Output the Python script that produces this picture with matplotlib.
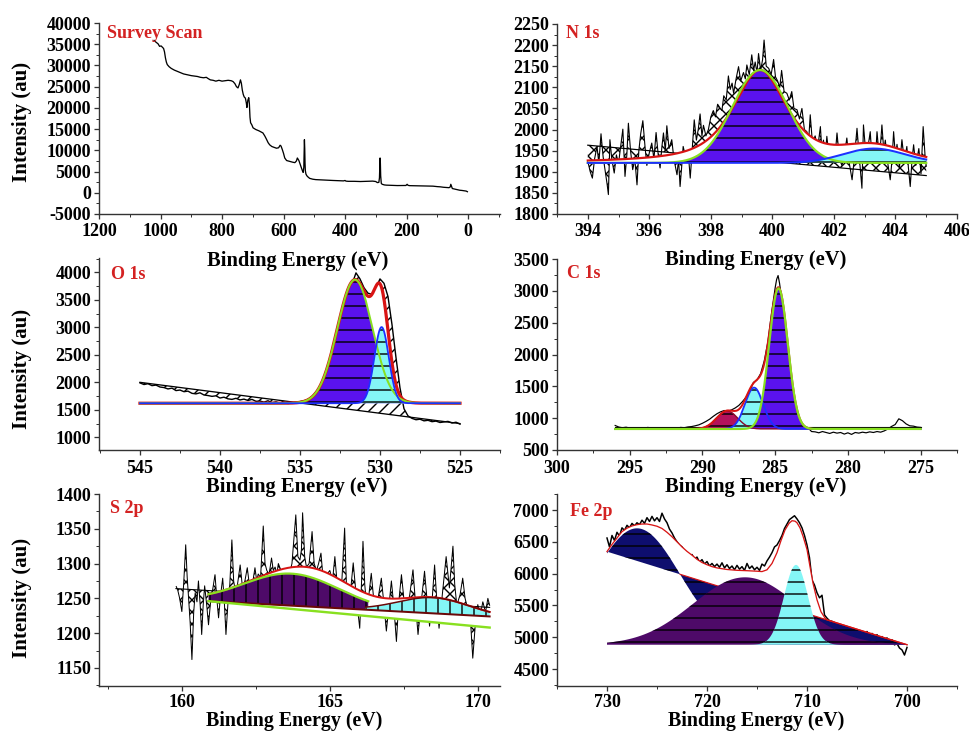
import numpy as np
import matplotlib
matplotlib.use('Agg')
import matplotlib.pyplot as plt
from matplotlib.ticker import MultipleLocator

# ---------------- DATA ----------------
# Survey scan (binding energy eV, intensity au)
surv_E = [1021, 1015, 1008, 1003, 998, 994, 990, 987, 984, 981, 978, 972, 965, 955, 945, 935, 925, 912, 900, 890,
          880, 870, 860, 851, 845, 838, 829, 820, 810, 800, 790, 780, 770, 764, 758, 753, 748, 744, 740, 737,
          734, 731, 728, 724, 721, 719, 716, 713, 711, 709, 707, 703, 699, 690, 680, 672, 667, 661, 656, 650,
          645, 638, 630, 623, 616, 611, 608, 604, 600, 596, 590, 580, 570, 563, 558, 555, 550, 545, 541, 538,
          536, 534, 533, 532, 531, 530, 529, 527, 524, 520, 515, 505, 495, 482, 470, 455, 439, 420, 405, 400,
          397, 390, 370, 350, 330, 310, 300, 295, 290, 288, 287, 286, 285, 284, 282, 279, 272, 266, 250, 230,
          210, 202, 198, 195, 190, 170, 150, 130, 114, 100, 90, 80, 70, 62, 58, 56, 54, 51, 45, 35,
          27, 20, 12, 6, 2]
surv_I = [35900, 35500, 35100, 34500, 34600, 34300, 34000, 33200, 31800, 30800, 30200, 29700, 29300, 28900, 28600,
          28300, 28000, 27800, 27600, 27500, 27400, 27200, 27100, 27200, 26900, 26600, 26500, 26300, 26500, 26300,
          26400, 26500, 26400, 26200, 25700, 25000, 24700, 25500, 26600, 25800, 24200, 23200, 22600, 22300, 21200,
          20100, 21800, 22400, 21000, 17800, 16500, 16000, 15300, 14900, 14600, 14300, 14100, 13400, 12700, 11800,
          11300, 10900, 10700, 10500, 10600, 11200, 11000, 10200, 9300, 8200, 7600, 7400, 7200, 7100, 7500,
          8200, 7600, 6500, 5700, 5100, 4800, 6000, 9000, 12500, 10500, 7000, 5200, 4400, 4000, 3700,
          3400, 3200, 3100, 3050, 3000, 2950, 2900, 2850, 2800, 2900, 2750, 2700, 2700, 2650, 2700,
          2750, 2650, 2400, 2450, 3500, 6000, 8200, 7000, 4000, 2200, 2000, 1850, 1800, 1750, 1700,
          1700, 1720, 2000, 1750, 1680, 1650, 1620, 1580, 1560, 1450, 1400, 1300, 1250, 1200, 1350,
          2000, 1600, 1000, 900, 750, 600, 550, 450, 400, 250]

# N 1s raw spectrum
n_E = [394.00, 394.08, 394.15, 394.22, 394.30, 394.36, 394.43, 394.50, 394.57, 394.63, 394.67, 394.72, 394.78,
       394.86, 394.93, 395.00, 395.07, 395.14, 395.21, 395.27, 395.32, 395.39, 395.46, 395.53, 395.60, 395.66,
       395.72, 395.79, 395.86, 395.92, 396.00, 396.08, 396.15, 396.22, 396.29, 396.35, 396.41, 396.46, 396.52,
       396.57, 396.64, 396.73, 396.80, 396.90, 396.95, 397.00, 397.05, 397.10, 397.18, 397.26, 397.33, 397.40,
       397.46, 397.53, 397.59, 397.65, 397.71, 397.76, 397.84, 397.92, 398.00, 398.08, 398.15, 398.22, 398.30,
       398.36, 398.42, 398.50, 398.57, 398.63, 398.69, 398.74, 398.82, 398.90, 398.97, 399.06, 399.12, 399.17,
       399.25, 399.33, 399.39, 399.44, 399.50, 399.55, 399.62, 399.68, 399.73, 399.80, 399.88, 399.96, 400.04,
       400.10, 400.17, 400.24, 400.30, 400.38, 400.47, 400.55, 400.63, 400.70, 400.80, 400.88, 400.96, 401.04,
       401.12, 401.18, 401.23, 401.30, 401.39, 401.47, 401.56, 401.61, 401.66, 401.72, 401.77, 401.85, 401.94,
       402.02, 402.10, 402.18, 402.26, 402.34, 402.42, 402.50, 402.59, 402.66, 402.75, 402.83, 402.91, 402.96,
       403.04, 403.11, 403.18, 403.24, 403.29, 403.34, 403.40, 403.48, 403.56, 403.62, 403.67, 403.75, 403.83,
       403.89, 403.94, 404.00, 404.05, 404.13, 404.21, 404.29, 404.37, 404.42, 404.48, 404.54, 404.59, 404.66,
       404.76, 404.83, 404.90, 404.96, 405.00]
n_I = [1925, 1900, 1885, 1930, 1960, 1920, 1990, 1935, 1900, 1870, 1846, 1976, 1930,
       1897, 1940, 1920, 1960, 2001, 1889, 1940, 2015, 1950, 1905, 1930, 1869, 1950,
       1990, 2021, 1960, 1915, 1945, 1968, 1930, 1993, 1940, 1909, 1960, 1992, 1950,
       2009, 1955, 1976, 1930, 1893, 1930, 1865, 1910, 1960, 1935, 1950, 1885, 1960,
       2023, 1975, 2000, 2037, 1985, 2010, 1985, 2000, 2030, 2045, 2030, 2060, 2051,
       2045, 2080, 2070, 2127, 2095, 2110, 2086, 2120, 2149, 2115, 2135, 2120, 2153,
       2130, 2177, 2140, 2160, 2135, 2180, 2140, 2165, 2212, 2150, 2145, 2130, 2166,
       2125, 2115, 2100, 2140, 2090, 2086, 2070, 2090, 2050, 2047, 2025, 2050, 2000,
       1995, 1975, 2035, 1970, 1985, 1955, 2007, 1950, 1975, 1940, 1984, 1930, 1952,
       1920, 1992, 1930, 1915, 1940, 1980, 1920, 1881, 1930, 2003, 1930, 1861, 2011,
       1940, 1960, 1995, 1930, 1955, 1920, 1995, 1930, 2011, 1950, 1975, 1920, 1881,
       1930, 1995, 1935, 1965, 1910, 1976, 1925, 1960, 1910, 1865, 1930, 1964, 1915,
       1955, 1895, 2007, 1940, 1913]
n_line_E = [394.0, 405.0]
n_line_I = [1963, 1891]
n_base = 1921
n_centers = [399.6, 403.3]
n_heights = [220, 34]
n_sigmas = [0.9, 1.0]
n_env_lorentz = 0.75

# O 1s raw spectrum
o_E = [545.00, 544.75, 544.50, 544.25, 544.00, 543.75, 543.50, 543.25, 543.00, 542.75, 542.50, 542.25, 542.00,
       541.75, 541.50, 541.25, 541.00, 540.75, 540.50, 540.25, 540.00, 539.75, 539.50, 539.25, 539.00, 538.75,
       538.50, 538.25, 538.00, 537.75, 537.50, 537.25, 537.00, 536.75, 536.50, 536.25, 536.00, 535.75, 535.50,
       535.25, 535.00, 534.75, 534.50, 534.25, 534.00, 533.75, 533.50, 533.25, 533.00, 532.75, 532.50, 532.25,
       532.00, 531.75, 531.50, 531.25, 531.00, 530.75, 530.50, 530.25, 530.00, 529.75, 529.50, 529.25, 529.00,
       528.75, 528.50, 528.25, 528.00, 527.75, 527.50, 527.25, 527.00, 526.75, 526.50, 526.25, 526.00, 525.75,
       525.50, 525.25, 525.00]
o_I = [1990, 1960, 1975, 1940, 1950, 1915, 1905, 1880, 1895, 1850, 1860, 1830, 1840,
       1800, 1790, 1810, 1770, 1760, 1745, 1755, 1715, 1730, 1700, 1690, 1710, 1680,
       1695, 1670, 1690, 1655, 1660, 1640, 1665, 1630, 1645, 1620, 1640, 1615, 1625,
       1640, 1650, 1665, 1690, 1740, 1820, 1880, 2060, 2200, 2380, 2640, 2900, 3200,
       3500, 3780, 3990, 3880, 3720, 3620, 3600, 3720, 3880, 3800, 3560, 3050, 2450,
       1900, 1520, 1390, 1345, 1320, 1330, 1300, 1310, 1285, 1295, 1270, 1280, 1290,
       1260, 1275, 1240]
o_line_E = [545.0, 525.0]
o_line_I = [2000, 1250]
o_base = 1620
o_centers = [531.56, 529.9]
o_heights = [2246, 1384]
o_sigmas = [1.1, 0.45]

# C 1s raw spectrum
c_E = [296.0, 295.75, 295.5, 295.25, 295.0, 294.75, 294.5, 294.25, 294.0, 293.75, 293.5, 293.25, 293.0, 292.75,
       292.5, 292.25, 292.0, 291.75, 291.5, 291.25, 291.0, 290.75, 290.5, 290.25, 290.0, 289.75, 289.5, 289.25,
       289.0, 288.75, 288.5, 288.25, 288.0, 287.75, 287.5, 287.25, 287.0, 286.75, 286.5, 286.25, 286.0, 285.75,
       285.5, 285.25, 285.0, 284.9, 284.8, 284.7, 284.6, 284.5, 284.25, 284.0, 283.75, 283.5, 283.25, 283.0,
       282.75, 282.5, 282.25, 282.0, 281.75, 281.5, 281.25, 281.0, 280.75, 280.5, 280.25, 280.0, 279.75, 279.5,
       279.25, 279.0, 278.75, 278.5, 278.25, 278.0, 277.75, 277.5, 277.25, 277.0, 276.75, 276.5, 276.25, 276.0,
       275.75, 275.5, 275.25, 275.0]
c_I = [885, 860, 850, 858, 845, 852, 838, 848, 842, 855, 840, 850, 846, 838,
       852, 845, 850, 842, 855, 850, 862, 868, 880, 895, 920, 950, 985, 1030,
       1070, 1100, 1120, 1110, 1130, 1160, 1200, 1260, 1330, 1420, 1560, 1600, 1700, 1900,
       2200, 2650, 3050, 3180, 3240, 3120, 2950, 2700, 2150, 1650, 1250, 1020, 920, 875,
       850, 790, 785, 770, 790, 775, 760, 780, 765, 775, 750, 770, 745, 775,
       765, 780, 770, 785, 775, 790, 780, 800, 830, 870, 900, 990, 960, 910,
       880, 875, 860, 855]
c_flat = 865
c_base = 830
c_centers = [288.3, 286.45, 284.77]
c_heights = [283, 650, 2209]
c_sigmas = [0.72, 0.62, 0.64]

# S 2p raw spectrum
s_E = [159.81, 159.86, 159.92, 160.00, 160.06, 160.13, 160.18, 160.22, 160.28, 160.34, 160.40, 160.45, 160.51,
       160.56, 160.62, 160.67, 160.72, 160.77, 160.84, 160.90, 160.97, 161.05, 161.12, 161.18, 161.24, 161.31,
       161.38, 161.44, 161.49, 161.56, 161.62, 161.69, 161.75, 161.80, 161.88, 161.97, 162.05, 162.13, 162.21,
       162.28, 162.36, 162.42, 162.47, 162.53, 162.58, 162.66, 162.75, 162.81, 162.87, 162.95, 163.03, 163.09,
       163.15, 163.21, 163.26, 163.35, 163.43, 163.52, 163.60, 163.72, 163.85, 163.92, 163.99, 164.04, 164.08,
       164.15, 164.21, 164.30, 164.40, 164.47, 164.55, 164.62, 164.70, 164.77, 164.83, 164.91, 165.00, 165.09,
       165.17, 165.23, 165.28, 165.40, 165.50, 165.56, 165.62, 165.70, 165.79, 165.90, 166.01, 166.06, 166.12,
       166.18, 166.24, 166.32, 166.40, 166.48, 166.57, 166.65, 166.74, 166.82, 166.91, 167.00, 167.08, 167.16,
       167.25, 167.33, 167.42, 167.50, 167.58, 167.70, 167.81, 167.90, 167.98, 168.09, 168.20, 168.28, 168.37,
       168.46, 168.54, 168.61, 168.69, 168.80, 168.93, 169.04, 169.16, 169.22, 169.29, 169.40, 169.49, 169.57,
       169.66, 169.75, 169.83, 169.92, 170.00, 170.08, 170.17, 170.26, 170.34, 170.40]
s_I = [1267, 1262, 1251, 1231, 1270, 1327, 1280, 1255, 1215, 1162, 1230, 1258, 1245,
       1275, 1240, 1198, 1240, 1268, 1240, 1212, 1245, 1265, 1284, 1250, 1222, 1255,
       1279, 1240, 1198, 1245, 1270, 1334, 1275, 1262, 1270, 1298, 1265, 1275, 1294,
       1270, 1260, 1280, 1294, 1275, 1285, 1280, 1354, 1300, 1290, 1285, 1308, 1290,
       1295, 1285, 1300, 1290, 1275, 1290, 1279, 1300, 1370, 1310, 1305, 1320, 1373,
       1310, 1295, 1300, 1346, 1300, 1290, 1300, 1315, 1280, 1270, 1285, 1290, 1275,
       1310, 1280, 1265, 1270, 1351, 1270, 1231, 1260, 1301, 1250, 1207, 1260, 1332,
       1270, 1240, 1255, 1286, 1250, 1235, 1255, 1279, 1245, 1203, 1240, 1275, 1240,
       1188, 1245, 1284, 1250, 1230, 1255, 1291, 1240, 1198, 1245, 1289, 1250, 1210,
       1250, 1298, 1250, 1207, 1255, 1310, 1265, 1325, 1270, 1240, 1255, 1279, 1250,
       1235, 1220, 1164, 1215, 1241, 1225, 1245, 1230, 1250, 1240]
s_line_E = [159.8, 170.4]
s_line_I = [1264, 1237]
s_comp_base_E = [160.9, 170.4]
s_comp_base_I = [1246, 1224]
s_bg_E = [160.9, 170.4]
s_bg_I = [1246, 1208]
s_centers = [163.7, 168.5, 164.8]     # purple, cyan, envelope-only component
s_heights = [46, 22.6, 15]
s_sigmas = [1.6, 1.2, 1.1]

# Fe 2p raw spectrum
fe_E = [730.00, 729.75, 729.50, 729.25, 729.00, 728.75, 728.50, 728.25, 728.00, 727.75, 727.50, 727.25, 727.00,
        726.75, 726.50, 726.25, 726.00, 725.75, 725.50, 725.25, 725.00, 724.75, 724.50, 724.25, 724.00, 723.75,
        723.50, 723.25, 723.00, 722.75, 722.50, 722.25, 722.00, 721.75, 721.50, 721.25, 721.00, 720.75, 720.50,
        720.25, 720.00, 719.75, 719.50, 719.25, 719.00, 718.75, 718.50, 718.25, 718.00, 717.75, 717.50, 717.25,
        717.00, 716.75, 716.50, 716.25, 716.00, 715.75, 715.50, 715.25, 715.00, 714.75, 714.50, 714.25, 714.00,
        713.75, 713.50, 713.25, 713.00, 712.75, 712.50, 712.25, 712.00, 711.75, 711.50, 711.25, 711.00, 710.75,
        710.50, 710.25, 710.00, 709.75, 709.50, 709.25, 709.00, 708.75, 708.50, 708.25, 708.00, 707.75, 707.50,
        707.25, 707.00, 706.75, 706.50, 706.25, 706.00, 705.75, 705.50, 705.25, 705.00, 704.75, 704.50, 704.25,
        704.00, 703.75, 703.50, 703.25, 703.00, 702.75, 702.50, 702.25, 702.00, 701.75, 701.50, 701.25, 701.00,
        700.75, 700.50, 700.25, 700.00]
fe_I = [6560, 6420, 6600, 6520, 6650, 6590, 6720, 6680, 6760, 6720, 6790, 6750, 6800,
        6770, 6840, 6790, 6880, 6820, 6900, 6830, 6880, 6820, 6950, 6860, 6800, 6700,
        6640, 6560, 6500, 6450, 6420, 6360, 6330, 6280, 6300, 6230, 6260, 6180, 6220,
        6150, 6190, 6120, 6160, 6110, 6150, 6100, 6170, 6090, 6140, 6080, 6120, 6060,
        6130, 6070, 6110, 6050, 6160, 6080, 6120, 6060, 6100, 6050, 6150, 6120, 6200,
        6260, 6330, 6420, 6450, 6520, 6600, 6710, 6780, 6850, 6880, 6910, 6860, 6800,
        6720, 6600, 6450, 6250, 5900, 5820, 5700, 5620, 5660, 5350, 5300, 5260, 5250,
        5230, 5210, 5180, 5170, 5150, 5140, 5110, 5120, 5090, 5100, 5060, 5080, 5040,
        5090, 5030, 5060, 5000, 5040, 4980, 5010, 4950, 4990, 4920, 4960, 4880, 4900,
        4830, 4800, 4720, 4840]
fe_env_E = [730, 729.5, 729, 728.5, 728, 727.5, 727, 726.5, 726, 725.5, 725, 724.5, 724, 723.5, 723, 722.5,
            722, 721.5, 721, 720.5, 720, 719.5, 719, 718, 717, 716, 715, 714.5, 714, 713.5, 713, 712.6,
            712.2, 711.8, 711.5, 711.2, 711, 710.7, 710.4, 710, 709.7, 709.4, 709, 708.6, 708.2, 708,
            704, 700]
fe_env_I = [6346, 6460, 6560, 6660, 6715, 6750, 6770, 6780, 6780, 6765, 6745, 6710, 6650, 6580, 6500, 6420,
            6350, 6290, 6225, 6175, 6140, 6110, 6090, 6065, 6052, 6046, 6038, 6032, 6060, 6160, 6330, 6520,
            6686, 6790, 6832, 6825, 6800, 6720, 6590, 6380, 6111, 5850, 5588, 5400, 5301, 5274,
            5077, 4882]
fe_bg_E = [700, 730]
fe_bg_I = [4882, 6346]
fe_base = 4882
fe_centers = [727.0, 716.2, 711.1]   # navy, purple, cyan
fe_heights = [1830, 1060, 1255]
fe_sigmas = [4.3, 5.2, 1.2]

# ---------------- STYLE ----------------
plt.rcParams['font.family'] = ['Liberation Serif', 'DejaVu Serif']
plt.rcParams['font.weight'] = 'bold'
plt.rcParams['axes.unicode_minus'] = False
plt.rcParams['hatch.linewidth'] = 1.4
plt.rcParams['hatch.color'] = 'black'

PURPLE = '#5a12ee'
CYAN = '#84f6f6'
DPURPLE = '#4e0a68'
NAVY = '#0e0e6e'
CRIMSON = '#b4125c'
RED = '#d81414'
GREEN = '#88e020'
BLUE = '#1c30ff'
DARKRED = '#6a0808'
TRED = '#d42222'

W, H = 969, 731
fig = plt.figure(figsize=(W / 72, H / 72), dpi=72)


def ax_at(l, t, r, b):
    return fig.add_axes([l / W, 1 - b / H, (r - l) / W, (b - t) / H])


def style(ax, xlim, ylim, xmaj, xmin, ymaj, ymin, xpad):
    ax.set_xlim(*xlim)
    ax.set_ylim(*ylim)
    for s in ['top', 'right']:
        ax.spines[s].set_visible(False)
    for s in ['left', 'bottom']:
        ax.spines[s].set_linewidth(1.4)
        ax.spines[s].set_color('#333333')
    ax.xaxis.set_major_locator(MultipleLocator(xmaj))
    ax.xaxis.set_minor_locator(MultipleLocator(xmin))
    ax.yaxis.set_major_locator(MultipleLocator(ymaj))
    ax.yaxis.set_minor_locator(MultipleLocator(ymin))
    ax.tick_params(which='major', direction='out', length=5, width=1.3, labelsize=18, color='#333333')
    ax.tick_params(which='minor', direction='out', length=3, width=1.0, color='#333333')
    ax.tick_params(axis='x', which='major', pad=xpad)
    ax.tick_params(axis='y', which='major', pad=3)
    ax.set_facecolor('white')


def G(x, c, h, s):
    return h * np.exp(-0.5 * ((x - c) / s) ** 2)


def ftext(x, y, s, **kw):
    fig.text(x / W, 1 - y / H, s, **kw)


def title(x, y, s):
    ftext(x, y, s, color=TRED, fontsize=18, fontweight='bold', ha='left', va='baseline')


# ---------- Survey ----------
ax1 = ax_at(99, 23, 500, 214)
style(ax1, (1200, -104), (-5000, 40000), 200, 100, 5000, 2500, 4)
ax1.plot(surv_E, surv_I, color='black', lw=1.3)
title(107, 38, 'Survey Scan')

# ---------- N 1s ----------
ax2 = ax_at(557, 24, 957, 214)
style(ax2, (393, 406), (1800, 2250), 2, 1, 50, 25, 4)
xg = np.linspace(394, 405, 800)
n_line = np.interp(n_E, n_line_E, n_line_I)
ax2.fill_between(n_E, n_I, n_line, facecolor='white', edgecolor='black', hatch='xx', lw=0, zorder=1)
ax2.plot(n_line_E, n_line_I, color='black', lw=1.2, zorder=2)
ax2.plot(n_E, n_I, color='black', lw=1.1, zorder=2)
p1 = G(xg, n_centers[0], n_heights[0], n_sigmas[0])
p2 = G(xg, n_centers[1], n_heights[1], n_sigmas[1])
hw = n_sigmas[0] * np.sqrt(2 * np.log(2))
lor = n_heights[0] / (1 + ((xg - n_centers[0]) / hw) ** 2)
n_env = n_base + n_env_lorentz * lor + (1 - n_env_lorentz) * p1 + p2
ax2.fill_between(xg, n_base, n_env, facecolor='white', lw=0, zorder=3)
ax2.fill_between(xg, n_base, n_base + p1, facecolor=PURPLE, edgecolor='black', hatch='-', lw=0, zorder=4)
ax2.fill_between(xg, n_base, n_base + p2, facecolor=CYAN, edgecolor='black', hatch='-', lw=0, zorder=4)
ax2.plot(xg, n_env, color=RED, lw=2.2, zorder=5)
ax2.plot(xg, n_base + p1, color=GREEN, lw=2.2, zorder=6)
ax2.plot(xg, n_base + p2, color=BLUE, lw=2.0, zorder=7)
title(566, 38, 'N 1s')

# ---------- O 1s ----------
ax3 = ax_at(99, 258, 500, 450)
style(ax3, (547.56, 522.5), (770, 4260), 5, 2.5, 500, 250, 5)
xg = np.linspace(525, 545, 800)
o_line = np.interp(o_E[::-1], o_line_E[::-1], o_line_I[::-1])[::-1]
ax3.fill_between(o_E, o_I, o_line, facecolor='white', edgecolor='black', hatch='//', lw=0, zorder=1)
ax3.plot(o_line_E, o_line_I, color='black', lw=1.3, zorder=2)
ax3.plot(o_E, o_I, color='black', lw=1.4, zorder=2)
q1 = G(xg, o_centers[0], o_heights[0], o_sigmas[0])
q2 = G(xg, o_centers[1], o_heights[1], o_sigmas[1])
o_env = o_base + q1 + q2
ax3.fill_between(xg, o_base, o_env, facecolor='white', lw=0, zorder=3)
ax3.fill_between(xg, o_base, o_base + q1, facecolor=PURPLE, edgecolor='black', hatch='-', lw=0, zorder=4)
ax3.fill_between(xg, o_base, o_base + q2, facecolor=CYAN, edgecolor='black', hatch='-', lw=0, zorder=4)
ax3.plot(xg, o_env, color=RED, lw=3.2, zorder=5)
ax3.plot(xg, o_base + q1, color=GREEN, lw=2.0, zorder=6)
ax3.plot(xg, o_base + q2, color=BLUE, lw=1.8, zorder=7)
title(111, 279, 'O 1s')

# ---------- C 1s ----------
ax4 = ax_at(557, 259, 957, 450)
style(ax4, (300, 272.5), (500, 3500), 5, 2.5, 500, 250, 5)
xg = np.linspace(275, 296, 900)
ax4.plot([296, 275], [c_flat, c_flat], color='black', lw=1.1, zorder=1)
ax4.plot(c_E, c_I, color='black', lw=1.2, zorder=2)
r1 = G(xg, c_centers[0], c_heights[0], c_sigmas[0])
r2 = G(xg, c_centers[1], c_heights[1], c_sigmas[1])
r3 = G(xg, c_centers[2], c_heights[2], c_sigmas[2])
ax4.fill_between(xg, c_base, c_base + r1, facecolor=CRIMSON, edgecolor='black', hatch='-', lw=0, zorder=3)
ax4.fill_between(xg, c_base, c_base + r2, facecolor=CYAN, edgecolor='black', hatch='-', lw=0, zorder=3)
ax4.fill_between(xg, c_base, c_base + r3, facecolor=PURPLE, edgecolor='black', hatch='-', lw=0, zorder=3)
ax4.plot(xg, c_base + r1, color='#8a0a2a', lw=1.4, zorder=4)
ax4.plot(xg, c_base + r2, color=BLUE, lw=1.8, zorder=4)
mask = (xg > 282.5) & (xg < 291)
ax4.plot(xg[mask], (c_base + r1 + r2 + r3)[mask], color=RED, lw=2.0, zorder=5)
ax4.plot(xg, c_base + r3, color=GREEN, lw=2.2, zorder=6)
title(567, 278, 'C 1s')

# ---------- S 2p ----------
ax5 = ax_at(99, 494, 500, 686)
style(ax5, (157.2, 170.75), (1124, 1400), 5, 2.5, 50, 25, 3)
s_line = np.interp(s_E, s_line_E, s_line_I)
ax5.fill_between(s_E, s_I, s_line, facecolor='white', edgecolor='black', hatch='xx', lw=0, zorder=1)
ax5.plot(s_line_E, s_line_I, color='black', lw=1.1, zorder=2)
ax5.plot(s_E, s_I, color='black', lw=1.0, zorder=2)
xg = np.linspace(160.9, 170.4, 800)
cb = np.interp(xg, s_comp_base_E, s_comp_base_I)
bg = np.interp(xg, s_bg_E, s_bg_I)
t1 = G(xg, s_centers[0], s_heights[0], s_sigmas[0])
t2 = G(xg, s_centers[1], s_heights[1], s_sigmas[1])
t3 = G(xg, s_centers[2], s_heights[2], s_sigmas[2])
s_env = cb + t1 + t2 + t3
ax5.fill_between(xg, bg, s_env, facecolor='white', lw=0, zorder=3)
mp = xg <= 166.3
mc = xg >= 166.2
ax5.fill_between(xg[mp], cb[mp], (cb + t1)[mp], facecolor=DPURPLE, edgecolor='black', hatch='|', lw=0, zorder=4)
ax5.fill_between(xg[mc], cb[mc], (cb + t2)[mc], facecolor=CYAN, edgecolor='black', hatch='|', lw=0, zorder=4)
ax5.plot(xg, s_env, color=RED, lw=2.0, zorder=5)
ax5.plot(xg[mc], (cb + t2)[mc], color=DARKRED, lw=1.5, zorder=6)
ax5.plot(xg[mp], (cb + t1)[mp], color=GREEN, lw=2.2, zorder=6)
ax5.plot(xg, cb, color=DARKRED, lw=2.0, zorder=6)
ax5.plot(xg, bg, color=GREEN, lw=2.4, zorder=6)
title(110, 513, 'S 2p')

# ---------- Fe 2p ----------
ax6 = ax_at(557, 494, 957, 686)
style(ax6, (735, 695), (4233, 7252), 10, 5, 500, 250, 3)
ax6.plot(fe_E, fe_I, color='black', lw=1.5, zorder=1)
xg = np.linspace(700, 730, 900)
fbg = np.interp(xg, fe_bg_E, fe_bg_I)
env = np.interp(xg, fe_env_E[::-1], fe_env_I[::-1])
ax6.fill_between(xg, fe_base, env, facecolor='white', lw=0, zorder=2)
u1 = fe_base + G(xg, fe_centers[0], fe_heights[0], fe_sigmas[0])
u2 = fe_base + G(xg, fe_centers[1], fe_heights[1], fe_sigmas[1])
u3 = fe_base + G(xg, fe_centers[2], fe_heights[2], fe_sigmas[2])
ax6.fill_between(xg, fbg, u1, facecolor=NAVY, edgecolor='black', hatch='-', lw=0, zorder=3)
mb = xg <= 722.7
ax6.plot(xg[mb], fbg[mb], color=RED, lw=1.2, zorder=3.5)
ax6.fill_between(xg, fe_base, u2, facecolor=DPURPLE, edgecolor='black', hatch='-', lw=0, zorder=4)
ax6.fill_between(xg, fe_base, u3, facecolor=CYAN, edgecolor='black', hatch='-', lw=0, zorder=5)
ax6.plot(fe_env_E, fe_env_I, color=RED, lw=1.3, zorder=6)
title(570, 516, 'Fe 2p')

# ---------- axis labels ----------
for (cx, by, fs) in [(298, 266, 20.5), (756, 265, 20.5), (297, 492, 20.5), (756, 492, 20.5),
                     (294, 726, 20), (756, 726, 20)]:
    ftext(cx, by, 'Binding Energy (eV)', fontsize=fs, fontweight='bold', ha='center', va='baseline')
for cy in [122, 369, 598]:
    ftext(22, cy, 'Intensity (au)', fontsize=21, fontweight='bold', ha='center', va='center', rotation=90)

fig.savefig('out.png', dpi=72, facecolor='white')
